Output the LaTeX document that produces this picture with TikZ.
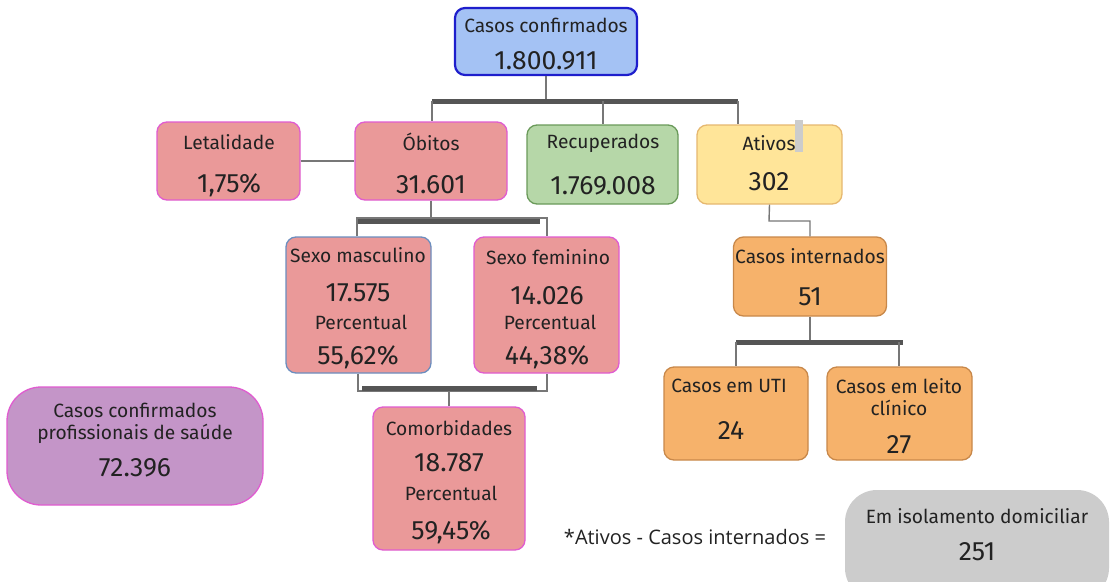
\documentclass[tikz,border=0pt]{standalone}
\usepackage{fontspec}
\setmainfont{Fira Sans}
\newfontfamily\notefont{Open Sans}
\begin{document}
\begin{tikzpicture}[x=1pt,y=-1pt,
  card/.style={draw, rounded corners=10pt, line width=1.3pt, inner sep=0pt},
  bluec/.style={card, fill=cblue, draw=cblueb, line width=2.2pt},
  pinkc/.style={card, fill=cpink, draw=cpinkb},
  pinkb/.style={card, fill=cpink, draw=cblueg},
  greenc/.style={card, fill=cgreen, draw=cgreenb},
  yellowc/.style={card, fill=cyellow, draw=cyellowb},
  orangec/.style={card, fill=corange, draw=corangeb},
  purplec/.style={card, fill=cpurple, draw=cpinkb, rounded corners=34pt},
  grayc/.style={card, fill=cgray, draw=none, rounded corners=32pt},
  ttl/.style={text=ctext, font=\fontsize{19.2}{22}\selectfont, inner sep=0pt},
  num/.style={text=ctext, font=\fontsize{26.5}{28}\selectfont, inner sep=0pt},
  link/.style={draw=clink, line width=1.4pt},
  bar/.style={draw=cbar, line width=5pt},
]
\definecolor{cblue}{HTML}{A4C2F4}
\definecolor{cblueb}{HTML}{1E1ECC}
\definecolor{cpink}{HTML}{EA9999}
\definecolor{cpinkb}{HTML}{E05CD0}
\definecolor{cblueg}{HTML}{6C8EBF}
\definecolor{cgreen}{HTML}{B6D7A8}
\definecolor{cgreenb}{HTML}{6A9A5A}
\definecolor{cyellow}{HTML}{FFE599}
\definecolor{cyellowb}{HTML}{E6B870}
\definecolor{corange}{HTML}{F6B26B}
\definecolor{corangeb}{HTML}{C8884A}
\definecolor{cpurple}{HTML}{C495C8}
\definecolor{cgray}{HTML}{CCCCCC}
\definecolor{ctext}{HTML}{222222}
\definecolor{clink}{HTML}{777777}
\definecolor{cbar}{HTML}{555555}

\useasboundingbox[fill=white] (0,0) rectangle (1116,581);

% boxes
\node[bluec, minimum width=182pt, minimum height=67pt] (conf) at (546,41.5) {};
\node[pinkc, minimum width=143pt, minimum height=78pt] (leta) at (228.5,161) {};
\node[pinkc, minimum width=152pt, minimum height=78pt] (obit) at (431,161) {};
\node[greenc, minimum width=151pt, minimum height=79pt] (recu) at (602.5,164.5) {};
\node[yellowc, minimum width=145pt, minimum height=79pt] (ativ) at (769.5,164.5) {};
\node[pinkb, minimum width=145pt, minimum height=136pt] (masc) at (358.5,305) {};
\node[pinkc, minimum width=145pt, minimum height=136pt] (femi) at (546.5,305) {};
\node[pinkc, minimum width=152pt, minimum height=143pt] (como) at (449,478.5) {};
\node[purplec, minimum width=256pt, minimum height=118pt] (prof) at (135,446) {};
\node[orangec, minimum width=153pt, minimum height=79pt] (inte) at (810,276.5) {};
\node[orangec, minimum width=144pt, minimum height=93pt] (uti) at (736,413.5) {};
\node[orangec, minimum width=145pt, minimum height=93pt] (leit) at (899.5,413.5) {};
\node[grayc, minimum width=264pt, minimum height=110pt] (isol) at (977,545) {};
\fill[cgray] (795,120) rectangle (803,152);

% texts
\node[ttl] (t1) at (546,25) {Casos confirmados};
\node[num] (n1) at (546,61) {1.800.911};
\node[ttl] (t2) at (229,142) {Letalidade};
\node[num] (n2) at (229,185) {1,75\%};
\node[ttl] (t3) at (431,142) {Óbitos};
\node[num] (n3) at (431,185) {31.601};
\node[ttl] (t4) at (603,143) {Recuperados};
\node[num] (n4) at (603,186) {1.769.008};
\node[ttl] (t5) at (769,143) {Ativos};
\node[num] (n5) at (769,182) {302};
\node[ttl] (t6) at (358,255) {Sexo masculino};
\node[num] (n6) at (358,293) {17.575};
\node[ttl] (p6) at (361,322) {Percentual};
\node[num] (q6) at (358,357) {55,62\%};
\node[ttl] (t7) at (548,257) {Sexo feminino};
\node[num] (n7) at (547,296) {14.026};
\node[ttl] (p7) at (550,322) {Percentual};
\node[num] (q7) at (547,357) {44,38\%};
\node[ttl] (t8) at (449,428) {Comorbidades};
\node[num] (n8) at (449,463) {18.787};
\node[ttl] (p8) at (451,493) {Percentual};
\node[num] (q8) at (451,532) {59,45\%};
\node[ttl, align=center] (t9) at (135,423) {Casos confirmados\\profissionais de saúde};
\node[num] (n9) at (135,468) {72.396};
\node[ttl] (t10) at (810,256) {Casos internados};
\node[num] (n10) at (810,297) {51};
\node[ttl] (t11) at (729,386) {Casos em UTI};
\node[num] (n11) at (731,430) {24};
\node[ttl, align=center] (t12) at (899,397) {Casos em leito\\clínico};
\node[num] (n12) at (899,445) {27};
\node[ttl] (t13) at (977,516) {Em isolamento domiciliar};
\node[num] (n13) at (977,552) {251};
\node[text=ctext, font=\notefont\fontsize{20}{22}\selectfont, inner sep=0pt] (note) at (695,537) {*Ativos - Casos internados =};

% connectors
\coordinate (b1L) at (432,101);
\coordinate (b1M) at (603,101);
\coordinate (b1R) at (738,101);
\draw[link] (conf.south) -- (conf.south |- b1L);
\draw[bar] (b1L) -- (b1R);
\draw[link] (b1L) -- (b1L |- obit.north);
\draw[link] (b1M) -- (b1M |- recu.north);
\draw[link] (b1R) -- (b1R |- ativ.north);
\draw[link] (leta.east) -- (obit.west);

\coordinate (b2L) at (357,218);
\coordinate (b2R) at (547,218);
\draw[link] (obit.south) -- (obit.south |- b2L);
\draw[link] (b2L |- masc.north) -- (b2L) -- (b2R) -- (b2R |- femi.north);
\draw[bar] (358,221) -- (540,221);

\coordinate (b3L) at (358,391);
\coordinate (b3R) at (547,391);
\draw[link] (b3L |- masc.south) -- (b3L) -- (b3R) -- (b3R |- femi.south);
\draw[bar] (362,388) -- (537,388);
\draw[link] (como.north) -- (como.north |- b3L);

\coordinate (k1) at (769,221);
\coordinate (k2) at (810,221);
\draw[link] (ativ.south) -- (k1) -- (k2) -- (inte.north);

\coordinate (b4L) at (736,342);
\coordinate (b4R) at (899,342);
\draw[link] (inte.south) -- (inte.south |- b4L);
\draw[bar] (b4L) -- (903,342);
\draw[link] (b4L) -- (b4L |- uti.north);
\draw[link] (b4R) -- (b4R |- leit.north);
\end{tikzpicture}
\end{document}
